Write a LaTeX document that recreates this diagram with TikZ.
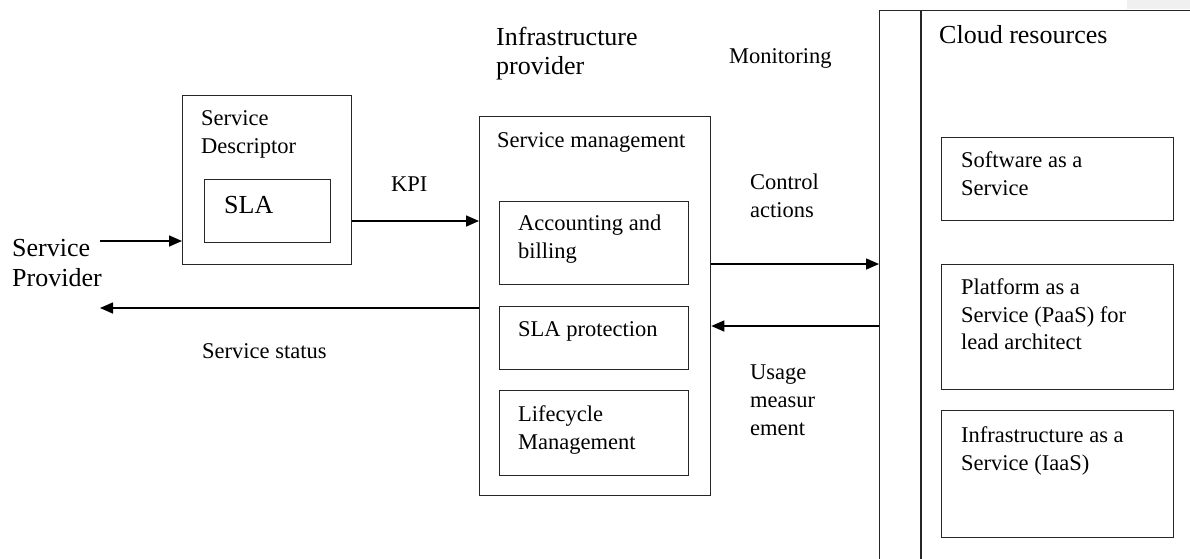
\documentclass[tikz,border=0pt]{standalone}
\usepackage{fontspec}
\setmainfont{Liberation Serif}
\usetikzlibrary{arrows.meta}
\begin{document}
\begin{tikzpicture}[x=1pt,y=-1pt,
  box/.style={draw=black!85, line width=1.3pt, anchor=north west, inner sep=0pt, rectangle},
  lbl/.style={anchor=base west, inner sep=0pt, font=\fontsize{22.5}{28}\selectfont},
  big/.style={anchor=base west, inner sep=0pt, font=\fontsize{26}{30}\selectfont},
  conn/.style={line width=1.6pt, -{Triangle[length=13pt,width=11pt]}}]
\clip (0,0) rectangle (1190,558);
\fill[white] (0,0) rectangle (1190,558);
\fill[black!6] (1127,0) rectangle (1190,9);

% boxes
\node[box, minimum width=169pt, minimum height=169pt] (desc) at (182,95) {};
\node[box, minimum width=126pt, minimum height=63pt] (sla) at (204,179) {};
\node[box, minimum width=231pt, minimum height=379pt] (sm) at (479,116) {};
\node[box, minimum width=189pt, minimum height=83pt] (acc) at (499,201) {};
\node[box, minimum width=189pt, minimum height=63pt] (prot) at (499,306) {};
\node[box, minimum width=189pt, minimum height=85pt] (life) at (499,390) {};
\node[box, minimum width=420pt, minimum height=600pt] (cloud) at (879,10) {};
\draw[black!85, line width=1.3pt] (921,10) -- (921,560);
\node[box, minimum width=232pt, minimum height=83pt] (saas) at (941,137) {};
\node[box, minimum width=232pt, minimum height=125pt] (paas) at (941,264) {};
\node[box, minimum width=232pt, minimum height=127pt] (iaas) at (941,410) {};

% texts
\node[big] (sp1) at (12,256) {Service};
\node[big] (sp2) at (12,286) {Provider};
\node[lbl] (d1) at (201,125) {Service};
\node[lbl] (d2) at (201,153) {Descriptor};
\node[big] (slat) at (224,213) {SLA};
\node[lbl] (kpi) at (391,191) {KPI};
\node[lbl] (sst) at (202,358) {Service status};
\node[big] (ip1) at (496,45) {Infrastructure};
\node[big] (ip2) at (496,74) {provider};
\node[lbl] (mon) at (729,63) {Monitoring};
\node[lbl] (smt) at (497,147) {Service management};
\node[lbl] (a1) at (518,230) {Accounting and};
\node[lbl] (a2) at (518,258) {billing};
\node[lbl] (pt) at (518,336) {SLA protection};
\node[lbl] (l1) at (518,421) {Lifecycle};
\node[lbl] (l2) at (518,449) {Management};
\node[lbl] (c1) at (750,189) {Control};
\node[lbl] (c2) at (750,217) {actions};
\node[lbl] (u1) at (750,379) {Usage};
\node[lbl] (u2) at (750,407) {measur};
\node[lbl] (u3) at (750,435) {ement};
\node[big] (cr) at (939,43) {Cloud resources};
\node[lbl] (s1) at (961,167) {Software as a};
\node[lbl] (s2) at (961,195) {Service};
\node[lbl] (p1) at (961,294) {Platform as a};
\node[lbl] (p2) at (961,322) {Service (PaaS) for};
\node[lbl] (p3) at (961,349) {lead architect};
\node[lbl] (i1) at (961,442) {Infrastructure as a};
\node[lbl] (i2) at (961,470) {Service (IaaS)};

% connectors
\coordinate (spin) at (100,241);
\coordinate (spout) at (100,308);
\coordinate (kpiy) at (0,221);
\coordinate (ctly) at (0,264);
\coordinate (usey) at (0,326);
\draw[conn] (spin) -- (desc.west |- spin);
\draw[conn] (desc.east |- kpiy) -- (sm.west |- kpiy);
\draw[conn] (sm.west |- spout) -- (spout);
\draw[conn] (sm.east |- ctly) -- (cloud.west |- ctly);
\draw[conn] (cloud.west |- usey) -- (sm.east |- usey);
\end{tikzpicture}
\end{document}
